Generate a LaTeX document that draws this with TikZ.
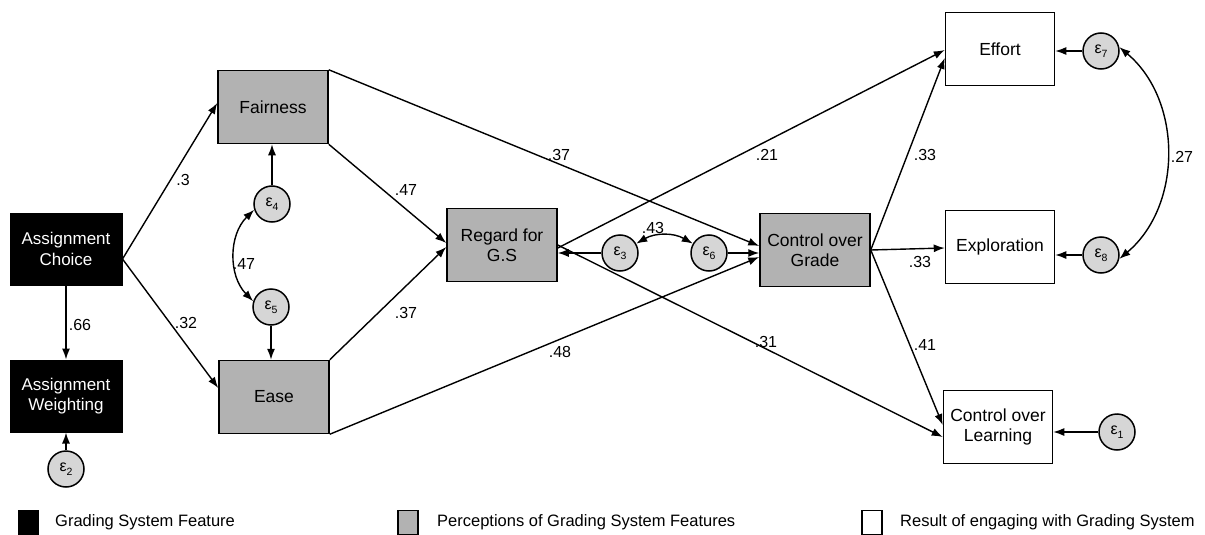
\documentclass[tikz,border=0pt]{standalone}
\usepackage{fontspec}
\setmainfont{Liberation Sans}
\usetikzlibrary{arrows.meta,calc}
\definecolor{boxgray}{RGB}{178,178,178}
\definecolor{errgray}{RGB}{214,214,214}
\newcommand\eps[1]{{\fontsize{16}{16}\selectfont ε\raisebox{-0.45ex}{\fontsize{10.5}{10.5}\selectfont #1}}}
\begin{document}
\begin{tikzpicture}[x=1pt,y=-1pt,
  every node/.style={font=\fontsize{17.5}{20}\selectfont},
  feat/.style={draw, fill=black, text=white, minimum width=112pt, minimum height=72pt, align=center, line width=1pt, font=\fontsize{17}{20.5}\selectfont},
  perc/.style={draw, fill=boxgray, minimum width=110pt, minimum height=73pt, align=center, line width=1.5pt},
  res/.style={draw, fill=white, minimum width=109pt, minimum height=73pt, align=center, line width=1.5pt},
  err/.style={draw, circle, fill=errgray, minimum size=36pt, inner sep=0pt, line width=1.5pt},
  conn/.style={-{Latex[length=11pt,width=8pt]}, line width=1.4pt},
  biconn/.style={{Latex[length=11pt,width=8pt]}-{Latex[length=11pt,width=8pt]}, line width=1.4pt},
  lbl/.style={font=\fontsize{16}{18}\selectfont, inner sep=0pt},
  key/.style={draw, line width=1.2pt, minimum width=20pt, minimum height=24pt, inner sep=0pt},
  keytext/.style={anchor=west, inner sep=0pt, font=\fontsize{16.5}{19}\selectfont}
]
\useasboundingbox (0,0) rectangle (1205,535);

% nodes
\node[feat] (AC) at (66,249) {Assignment\\Choice};
\node[feat] (AW) at (66,396) {Assignment\\Weighting};
\node[err] (e2) at (66,469) {\eps{2}};
\node[perc] (F) at (273,107) {Fairness};
\node[perc] (E) at (274,397) {Ease};
\node[err] (e4) at (272,204) {\eps{4}};
\node[err] (e5) at (271,307) {\eps{5}};
\node[perc] (R) at (502,245) {Regard for\\G.S};
\node[err] (e3) at (620,253) {\eps{3}};
\node[err] (e6) at (709,253) {\eps{6}};
\node[perc] (C) at (815,250) {Control over\\Grade};
\node[res] (Ef) at (1000,49) {Effort};
\node[res] (Ex) at (1000,247) {Exploration};
\node[res] (L) at (998,427) {Control over\\Learning};
\node[err] (e7) at (1101,51) {\eps{7}};
\node[err] (e8) at (1101,255) {\eps{8}};
\node[err] (e1) at (1117,432) {\eps{1}};

% connectors
\draw[conn] ($(AC.east)+(0,10)$) -- ($(F.west)+(0,-4)$);
\draw[conn] ($(AC.east)+(0,10)$) -- ($(E.west)+(0,-9)$);
\draw[conn] (AC.south) -- (AC.south |- AW.north);
\draw[conn] (e2.north) -- (e2.north |- AW.south);
\draw[conn] (e4.north) -- (e4.north |- F.south);
\draw[conn] (e5.south) -- (e5.south |- E.north);
\draw[biconn] (e4.198) to[bend right=45] (e5.162);
\draw[conn] (F.south east) -- ($(R.west)+(0,-2)$);
\draw[conn] (E.north east) -- ($(R.west)+(0,2)$);
\draw[conn] (F.north east) -- ($(C.west)+(0,-4)$);
\draw[conn] (E.south east) -- ($(C.west)+(0,7)$);
\draw[conn] (e3.west) -- (R.east |- e3.west);
\draw[conn] (e6.east) -- (C.west |- e6.east);
\draw[biconn] (e3.30) to[bend left=30] (e6.150);
\draw[conn] ($(R.east)+(0,3)$) -- ($(Ef.west)+(0,1)$);
\draw[conn] ($(R.east)+(0,0)$) -- ($(L.west)+(0,10)$);
\draw[conn] (C.east) -- ($(Ef.west)+(0,9)$);
\draw[conn] (C.east) -- ($(Ex.west)+(0,1)$);
\draw[conn] (C.east) -- ($(L.west)+(0,-2)$);
\draw[conn] (e7.west) -- (Ef.east |- e7.west);
\draw[conn] (e8.west) -- (Ex.east |- e8.west);
\draw[conn] (e1.west) -- (L.east |- e1.west);
\draw[biconn] (e7.12) to[bend left=50] (e8.-12);

% labels
\node[lbl] (l1) at (183,180) {.3};
\node[lbl] (l2) at (186,323) {.32};
\node[lbl] (l3) at (80,325) {.66};
\node[lbl] (l4) at (244,264) {.47};
\node[lbl] (l5) at (406,190) {.47};
\node[lbl] (l6) at (406,313) {.37};
\node[lbl] (l7) at (559,155) {.37};
\node[lbl] (l8) at (560,352) {.48};
\node[lbl] (l9) at (653,228) {.43};
\node[lbl] (l10) at (767,155) {.21};
\node[lbl] (l11) at (766,342) {.31};
\node[lbl] (l12) at (925,155) {.33};
\node[lbl] (l13) at (920,262) {.33};
\node[lbl] (l14) at (925,345) {.41};
\node[lbl] (l15) at (1182,157) {.27};

% legend
\node[key, fill=black] (k1) at (28.5,522.5) {};
\node[keytext] (t1) at (55,522) {Grading System Feature};
\node[key, fill=boxgray] (k2) at (408,522.5) {};
\node[keytext] (t2) at (437,522) {Perceptions of Grading System Features};
\node[key, fill=white] (k3) at (872,522.5) {};
\node[keytext] (t3) at (900,522) {Result of engaging with Grading System};
\end{tikzpicture}
\end{document}
